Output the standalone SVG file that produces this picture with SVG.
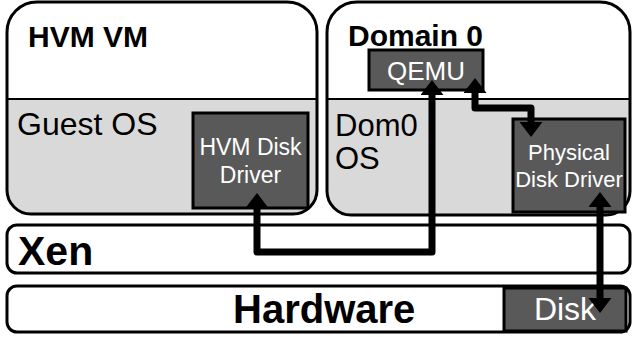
<svg xmlns="http://www.w3.org/2000/svg" width="634" height="337" viewBox="0 0 634 337">
<style>
.outline{fill:none;stroke:#000;stroke-width:3}
.top{fill:#fff}
.os{fill:#d9d9d9}
.div{stroke:#000;stroke-width:2}
.dark{fill:#595959;stroke:#000;stroke-width:3}
.layer{fill:#fff;stroke:#000;stroke-width:3}
.t{font-family:"Liberation Sans",Arial,sans-serif;fill:#000}
.b{font-weight:bold}
.w{fill:#fff}
.conn{fill:none;stroke:#000;stroke-width:7;stroke-linejoin:round;marker-start:url(#ah);marker-end:url(#ah)}
</style>
<defs>
<marker id="ah" markerUnits="userSpaceOnUse" markerWidth="16" markerHeight="24" refX="0" refY="11.5" orient="auto-start-reverse" viewBox="0 0 16 24">
<path d="M0,0 L15,11.5 L0,23 Z" fill="#000"/>
</marker>
</defs>
<g id="hvm-vm">
<path class="top" d="M7,99 L7,32 A30,30 0 0 1 37,2 L287,2 A30,30 0 0 1 317,32 L317,99 Z"/>
<path class="os" d="M7,99 L317,99 L317,190 A24,24 0 0 1 293,214 L31,214 A24,24 0 0 1 7,190 Z"/>
<path class="outline" d="M7,190 L7,32 A30,30 0 0 1 37,2 L287,2 A30,30 0 0 1 317,32 L317,190 A24,24 0 0 1 293,214 L31,214 A24,24 0 0 1 7,190 Z"/>
<line class="div" x1="7" y1="99" x2="317" y2="99"/>
<text class="t b" x="28" y="47" font-size="30">HVM VM</text>
<text class="t" x="17" y="135" font-size="32">Guest OS</text>
</g>
<g id="hvm-disk-driver">
<rect class="dark" x="193" y="113" width="115" height="95"/>
<text class="t w" x="250.5" y="155" font-size="23" text-anchor="middle">HVM Disk</text>
<text class="t w" x="250.5" y="183" font-size="23" text-anchor="middle">Driver</text>
</g>
<g id="domain0">
<path class="top" d="M327,99 L327,32 A30,30 0 0 1 357,2 L600,2 A30,30 0 0 1 630,32 L630,99 Z"/>
<path class="os" d="M327,99 L630,99 L630,191 A24,24 0 0 1 606,215 L351,215 A24,24 0 0 1 327,191 Z"/>
<path class="outline" d="M327,191 L327,32 A30,30 0 0 1 357,2 L600,2 A30,30 0 0 1 630,32 L630,191 A24,24 0 0 1 606,215 L351,215 A24,24 0 0 1 327,191 Z"/>
<line class="div" x1="327" y1="99" x2="630" y2="99"/>
<text class="t b" x="348" y="46" font-size="30">Domain 0</text>
<text class="t" x="335" y="136" font-size="31">Dom0</text>
<text class="t" x="335" y="169" font-size="31">OS</text>
</g>
<g id="qemu">
<rect class="dark" x="369" y="50" width="114" height="40"/>
<text class="t w" x="426" y="80" font-size="26" text-anchor="middle">QEMU</text>
</g>
<g id="physical-disk-driver">
<rect class="dark" x="513" y="119" width="112" height="93"/>
<text class="t w" x="569" y="160" font-size="22" text-anchor="middle">Physical</text>
<text class="t w" x="569" y="187" font-size="22" text-anchor="middle">Disk Driver</text>
</g>
<g id="xen">
<rect class="layer" x="7" y="225" width="623" height="48" rx="10"/>
<text class="t b" x="18" y="265" font-size="41">Xen</text>
</g>
<g id="hardware">
<rect class="layer" x="7" y="286" width="623" height="46" rx="10"/>
<text class="t b" x="233" y="323" font-size="40">Hardware</text>
</g>
<g id="disk">
<rect class="dark" x="504" y="288" width="122" height="43"/>
<text class="t w" x="565" y="320" font-size="32" text-anchor="middle">Disk</text>
</g>
<g id="connectors">
<path class="conn" d="M257,208 V252 H432 V95"/>
<path class="conn" d="M475,93 V108 H531 V122"/>
<path class="conn" d="M600,207 V298"/>
</g>
</svg>
